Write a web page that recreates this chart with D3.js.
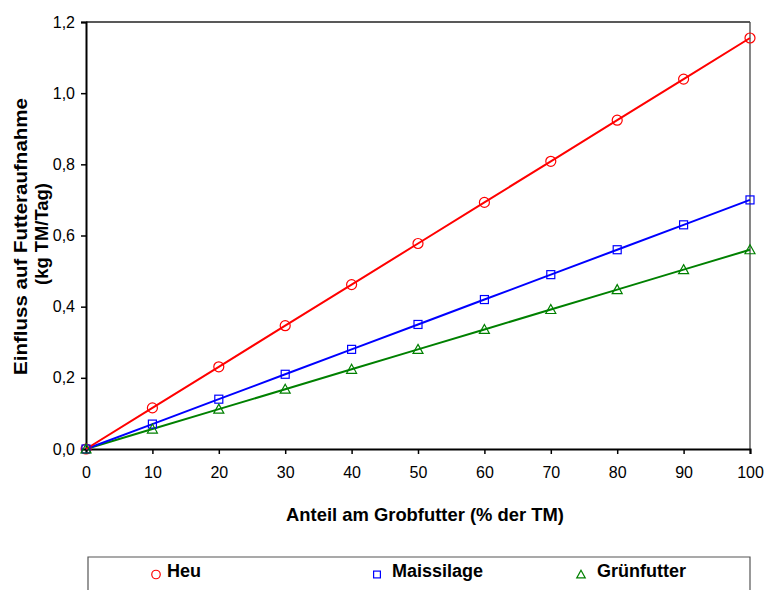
<!DOCTYPE html>
<html><head><meta charset="utf-8">
<script src="https://cdn.jsdelivr.net/npm/d3@7"></script>
<style>body{margin:0;background:#fff}svg{display:block}text{font-family:"Liberation Sans",Arial,sans-serif}</style>
</head><body>
<svg id="c" width="768" height="590"></svg>
<script>
const xValues = [0,10,20,30,40,50,60,70,80,90,100];
const heu = [0,0.1155,0.231,0.3465,0.462,0.5775,0.693,0.8085,0.924,1.0395,1.155];
const maissilage = [0,0.07,0.14,0.21,0.28,0.35,0.42,0.49,0.56,0.63,0.70];
const gruenfutter = [0,0.056,0.112,0.168,0.224,0.28,0.336,0.392,0.448,0.504,0.56];
const seriesNames = ["Heu","Maissilage","Grünfutter"];
const yTicks = [0,0.2,0.4,0.6,0.8,1.0,1.2];
const xTicks = [0,10,20,30,40,50,60,70,80,90,100];

const svg = d3.select("#c");
const L=86,R=750,T=22,B=449;
const x = d3.scaleLinear().domain([0,100]).range([L,R]);
const y = d3.scaleLinear().domain([0,1.2]).range([B,T]);

// frame
svg.append("line").attr("x1",L).attr("x2",R).attr("y1",T).attr("y2",T).attr("stroke","#222").attr("stroke-width",1.5);
svg.append("line").attr("x1",R).attr("x2",R).attr("y1",T).attr("y2",B).attr("stroke","#444").attr("stroke-width",1.3);

const fmt = d => d3.format(".1f")(d).replace(".",",");
const yAxis = svg.append("g").attr("transform",`translate(${L},0)`)
  .call(d3.axisLeft(y).tickValues(yTicks).tickFormat(fmt).tickSize(5).tickPadding(6));
const xAxis = svg.append("g").attr("transform",`translate(0,${B})`)
  .call(d3.axisBottom(x).tickValues(xTicks).tickFormat(d3.format("d")).tickSize(5).tickPadding(13));
[yAxis,xAxis].forEach(a=>{
  a.select(".domain").attr("stroke","#000").attr("stroke-width",2);
  a.selectAll(".tick line").attr("stroke","#000").attr("stroke-width",1.5);
  a.selectAll("text").attr("font-size",16).attr("fill","#000").style("font-family","Liberation Sans, Arial, sans-serif");
});

const series = [
  {name:seriesNames[0], vals:heu, color:"#ff0000", shape:"circle"},
  {name:seriesNames[1], vals:maissilage, color:"#0000ff", shape:"square"},
  {name:seriesNames[2], vals:gruenfutter, color:"#008000", shape:"triangle"}
];
const line = d3.line().x((d,i)=>x(xValues[i])).y(d=>y(d));
function marker(g, shape, cx, cy, color, s){
  if(shape==="circle") g.append("ellipse").attr("cx",cx).attr("cy",cy).attr("rx",5*s).attr("ry",5*s).attr("fill","none").attr("stroke",color).attr("stroke-width",1.2);
  else if(shape==="square") g.append("rect").attr("x",cx-4*s).attr("y",cy-4*s).attr("width",8*s).attr("height",8*s).attr("fill","none").attr("stroke",color).attr("stroke-width",1.2);
  else g.append("path").attr("d",`M${cx},${cy-5*s}L${cx+5*s},${cy+4*s}L${cx-5*s},${cy+4*s}Z`).attr("fill","none").attr("stroke",color).attr("stroke-width",1.2);
}
series.slice().reverse().forEach(s=>{
  svg.append("path").datum(s.vals).attr("d",line).attr("fill","none").attr("stroke",s.color).attr("stroke-width",2);
});
series.forEach(s=>{
  const g=svg.append("g");
  s.vals.forEach((v,i)=>marker(g,s.shape,x(xValues[i]),y(v),s.color,1));
});

// axis titles
svg.append("text").attr("x",425).attr("y",521).attr("text-anchor","middle").attr("font-size",19).attr("font-weight","bold")
  .attr("textLength",278).attr("lengthAdjust","spacingAndGlyphs").text("Anteil am Grobfutter (% der TM)");
svg.append("text").attr("transform","translate(27,236.5) rotate(-90)").attr("text-anchor","middle").attr("font-size",19).attr("font-weight","bold")
  .attr("textLength",277).attr("lengthAdjust","spacingAndGlyphs").text("Einfluss auf Futteraufnahme");
svg.append("text").attr("transform","translate(48,234) rotate(-90)").attr("text-anchor","middle").attr("font-size",18).attr("font-weight","bold")
  .attr("textLength",102).attr("lengthAdjust","spacingAndGlyphs").text("(kg TM/Tag)");

// legend
svg.append("path").attr("d","M88,592V557H750V592").attr("fill","none").attr("stroke","#555").attr("stroke-width",1.2);
const lx=[156,377,581], tx=[167,392,597];
series.forEach((s,i)=>{
  const g=svg.append("g");
  marker(g,s.shape,lx[i],574.5,s.color,0.85);
  svg.append("text").attr("x",tx[i]).attr("y",577).attr("font-size",18).attr("font-weight","bold").text(s.name);
});
</script>
</body></html>
